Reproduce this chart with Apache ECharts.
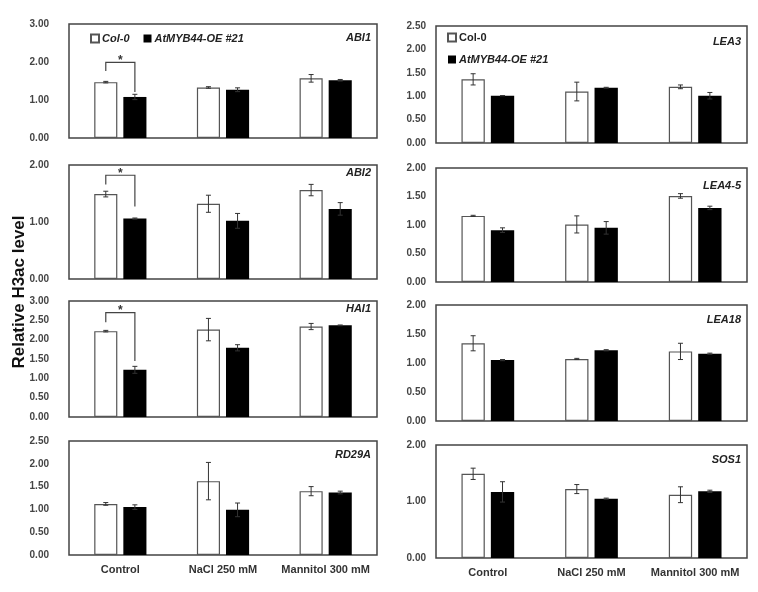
<!DOCTYPE html>
<html>
<head>
<meta charset="utf-8">
<script src="https://cdn.jsdelivr.net/npm/echarts@6/dist/echarts.min.js"></script>
<style>html,body{margin:0;padding:0;background:#fff;}#c{width:758px;height:592px;}</style>
</head>
<body>
<div id="c"></div>
<script>
// ---------- data ----------
const categories = ['Control', 'NaCl 250 mM', 'Mannitol 300 mM'];
const seriesNames = ['Col-0', 'AtMYB44-OE #21'];

const abi1Col = [1.47, 1.33, 1.57], abi1ColErr = [0.02, 0.02, 0.10];
const abi1OE  = [1.08, 1.27, 1.52], abi1OEErr  = [0.07, 0.05, 0.02];
const abi1Sig = [1.99, 1.76, 1.21];

const abi2Col = [1.49, 1.32, 1.56], abi2ColErr = [0.05, 0.15, 0.10];
const abi2OE  = [1.06, 1.02, 1.23], abi2OEErr  = [0.01, 0.13, 0.11];
const abi2Sig = [1.82, 1.66, 1.27];

const hai1Col = [2.22, 2.26, 2.34], hai1ColErr = [0.02, 0.29, 0.08];
const hai1OE  = [1.22, 1.79, 2.37], hai1OEErr  = [0.09, 0.08, 0.01];
const hai1Sig = [2.70, 2.45, 1.45];

const rd29aCol = [1.12, 1.62, 1.40], rd29aColErr = [0.03, 0.41, 0.10];
const rd29aOE  = [1.05, 0.99, 1.37], rd29aOEErr  = [0.05, 0.15, 0.03];

const lea3Col = [1.36, 1.10, 1.20], lea3ColErr = [0.12, 0.20, 0.04];
const lea3OE  = [1.01, 1.18, 1.01], lea3OEErr  = [0.00, 0.01, 0.07];

const lea45Col = [1.16, 1.01, 1.51], lea45ColErr = [0.01, 0.15, 0.04];
const lea45OE  = [0.91, 0.95, 1.30], lea45OEErr  = [0.04, 0.11, 0.03];

const lea18Col = [1.34, 1.07, 1.20], lea18ColErr = [0.13, 0.01, 0.14];
const lea18OE  = [1.05, 1.22, 1.16], lea18OEErr  = [0.01, 0.01, 0.01];

const sos1Col = [1.49, 1.22, 1.12], sos1ColErr = [0.10, 0.08, 0.14];
const sos1OE  = [1.17, 1.05, 1.18], sos1OEErr  = [0.18, 0.01, 0.02];

// ---------- layout ----------
const panels = [
  {gene:'ABI1',  col:abi1Col,  colErr:abi1ColErr,  oe:abi1OE,  oeErr:abi1OEErr,  sig:abi1Sig, max:3,   interval:1,   left:69,  top:24,  width:308, height:114, labelTop:14, side:'L', xlab:false},
  {gene:'ABI2',  col:abi2Col,  colErr:abi2ColErr,  oe:abi2OE,  oeErr:abi2OEErr,  sig:abi2Sig, max:2,   interval:1,   left:69,  top:165, width:308, height:114, labelTop:8,  side:'L', xlab:false},
  {gene:'HAI1',  col:hai1Col,  colErr:hai1ColErr,  oe:hai1OE,  oeErr:hai1OEErr,  sig:hai1Sig, max:3,   interval:0.5, left:69,  top:301, width:308, height:116, labelTop:8,  side:'L', xlab:false},
  {gene:'RD29A', col:rd29aCol, colErr:rd29aColErr, oe:rd29aOE, oeErr:rd29aOEErr, sig:null,    max:2.5, interval:0.5, left:69,  top:441, width:308, height:114, labelTop:14, side:'L', xlab:true},
  {gene:'LEA3',  col:lea3Col,  colErr:lea3ColErr,  oe:lea3OE,  oeErr:lea3OEErr,  sig:null,    max:2.5, interval:0.5, left:436, top:26,  width:311, height:117, labelTop:16, side:'R', xlab:false},
  {gene:'LEA4-5',col:lea45Col, colErr:lea45ColErr, oe:lea45OE, oeErr:lea45OEErr, sig:null,    max:2,   interval:0.5, left:436, top:168, width:311, height:114, labelTop:18, side:'R', xlab:false},
  {gene:'LEA18', col:lea18Col, colErr:lea18ColErr, oe:lea18OE, oeErr:lea18OEErr, sig:null,    max:2,   interval:0.5, left:436, top:305, width:311, height:116, labelTop:15, side:'R', xlab:false},
  {gene:'SOS1',  col:sos1Col,  colErr:sos1ColErr,  oe:sos1OE,  oeErr:sos1OEErr,  sig:null,    max:2,   interval:1,   left:436, top:445, width:311, height:113, labelTop:15, side:'R', xlab:true}
];

const BAR_W = 0.225, BAR_GAP = 0.26;
const OFF = (BAR_W + BAR_W * BAR_GAP) / 2;
const FONT = 'Liberation Sans, Arial, sans-serif';

const grids = [], xAxes = [], yAxes = [], series = [], titles = [];

function errRender(offset) {
  return function (params, api) {
    const ci = api.value(0), v = api.value(1), e = api.value(2);
    const bw = api.size([1, 0])[0];
    const x = api.coord([ci, v])[0] + offset * bw;
    const yt = api.coord([ci, v + e])[1];
    const yb = api.coord([ci, v - e])[1];
    const st = {stroke: '#333', lineWidth: 1};
    return {type: 'group', children: [
      {type: 'line', shape: {x1: x, y1: yt, x2: x, y2: yb}, style: st},
      {type: 'line', shape: {x1: x - 2.5, y1: yt, x2: x + 2.5, y2: yt}, style: st},
      {type: 'line', shape: {x1: x - 2.5, y1: yb, x2: x + 2.5, y2: yb}, style: st}
    ]};
  };
}

function sigRender(params, api) {
  const top = api.value(1), lb = api.value(2), rb = api.value(3);
  const bw = api.size([1, 0])[0];
  const cx = api.coord([0, top])[0];
  const xl = cx - OFF * bw, xr = cx + OFF * bw;
  const yt = api.coord([0, top])[1];
  const yl = api.coord([0, lb])[1];
  const yr = api.coord([0, rb])[1];
  const st = {stroke: '#444', lineWidth: 1.2, fill: null};
  return {type: 'group', children: [
    {type: 'polyline', shape: {points: [[xl, yl], [xl, yt], [xr, yt], [xr, yr]]}, style: st},
    {type: 'text', style: {text: '*', x: cx, y: yt - 2, align: 'center', verticalAlign: 'middle',
      font: 'bold 12px ' + FONT, fill: '#333'}}
  ]};
}

panels.forEach((p, i) => {
  grids.push({left: p.left, top: p.top, width: p.width, height: p.height, show: true,
    borderColor: '#444', borderWidth: 1.5, backgroundColor: 'transparent', containLabel: false});
  xAxes.push({type: 'category', gridIndex: i, data: categories,
    axisLine: {show: false}, axisTick: {show: false}, splitLine: {show: false},
    axisLabel: {show: p.xlab, margin: 9, fontSize: 11, fontWeight: 'bold', color: '#333', fontFamily: FONT, interval: 0}});
  yAxes.push({type: 'value', gridIndex: i, min: 0, max: p.max, interval: p.interval,
    axisLine: {show: false}, axisTick: {show: false}, splitLine: {show: false},
    axisLabel: {margin: p.side === 'L' ? 20 : 10, fontSize: 10, fontWeight: 'bold', color: '#444', fontFamily: FONT,
      formatter: v => v.toFixed(2)}});
  series.push({type: 'bar', name: seriesNames[0], xAxisIndex: i, yAxisIndex: i, data: p.col,
    barWidth: (BAR_W * 100) + '%', barGap: (BAR_GAP * 100) + '%',
    itemStyle: {color: '#fff', borderColor: '#555', borderWidth: 1.2}, silent: true});
  series.push({type: 'bar', name: seriesNames[1], xAxisIndex: i, yAxisIndex: i, data: p.oe,
    barWidth: (BAR_W * 100) + '%', barGap: (BAR_GAP * 100) + '%',
    itemStyle: {color: '#000', borderColor: '#000', borderWidth: 0}, silent: true});
  series.push({type: 'custom', name: 'errCol' + i, xAxisIndex: i, yAxisIndex: i, z: 5, silent: true,
    renderItem: errRender(-OFF), data: p.col.map((v, k) => [k, v, p.colErr[k]])});
  series.push({type: 'custom', name: 'errOE' + i, xAxisIndex: i, yAxisIndex: i, z: 5, silent: true,
    renderItem: errRender(OFF), data: p.oe.map((v, k) => [k, v, p.oeErr[k]])});
  if (p.sig) {
    series.push({type: 'custom', name: 'sig' + i, xAxisIndex: i, yAxisIndex: i, z: 6, silent: true,
      renderItem: sigRender, data: [[0, p.sig[0], p.sig[1], p.sig[2]]]});
  }
  titles.push({text: p.gene, padding: 0, right: 758 - (p.left + p.width) + 6, top: p.top + p.labelTop - 6,
    textStyle: {fontSize: 11, fontWeight: 'bold', fontStyle: 'italic', color: '#222', fontFamily: FONT}});
});

const option = {
  animation: false,
  backgroundColor: '#fff',
  title: titles,
  legend: [
    {left: 85, top: 28, orient: 'horizontal', itemWidth: 8, itemHeight: 8, itemGap: 14, icon: 'rect',
      selectedMode: false,
      textStyle: {fontSize: 11, fontWeight: 'bold', fontStyle: 'italic', color: '#222', fontFamily: FONT, padding: [0, 0, 0, -2]},
      data: [{name: seriesNames[0]}, {name: seriesNames[1]}]},
    {left: 442, top: 27, orient: 'vertical', itemWidth: 8, itemHeight: 8, itemGap: 11, icon: 'rect',
      selectedMode: false,
      textStyle: {fontSize: 11, fontWeight: 'bold', color: '#222', fontFamily: FONT, padding: [0, 0, 0, -2]},
      data: [{name: seriesNames[0]}, {name: seriesNames[1], textStyle: {fontStyle: 'italic'}}]}
  ],
  grid: grids,
  xAxis: xAxes,
  yAxis: yAxes,
  series: series,
  graphic: [{
    type: 'text', x: 19, y: 292, rotation: Math.PI / 2,
    style: {text: 'Relative H3ac level', align: 'center', verticalAlign: 'middle',
      font: 'bold 17px ' + FONT, fill: '#111'}
  }]
};

const chart = echarts.init(document.getElementById('c'), null, {renderer: 'canvas'});
chart.setOption(option);
</script>
</body>
</html>
